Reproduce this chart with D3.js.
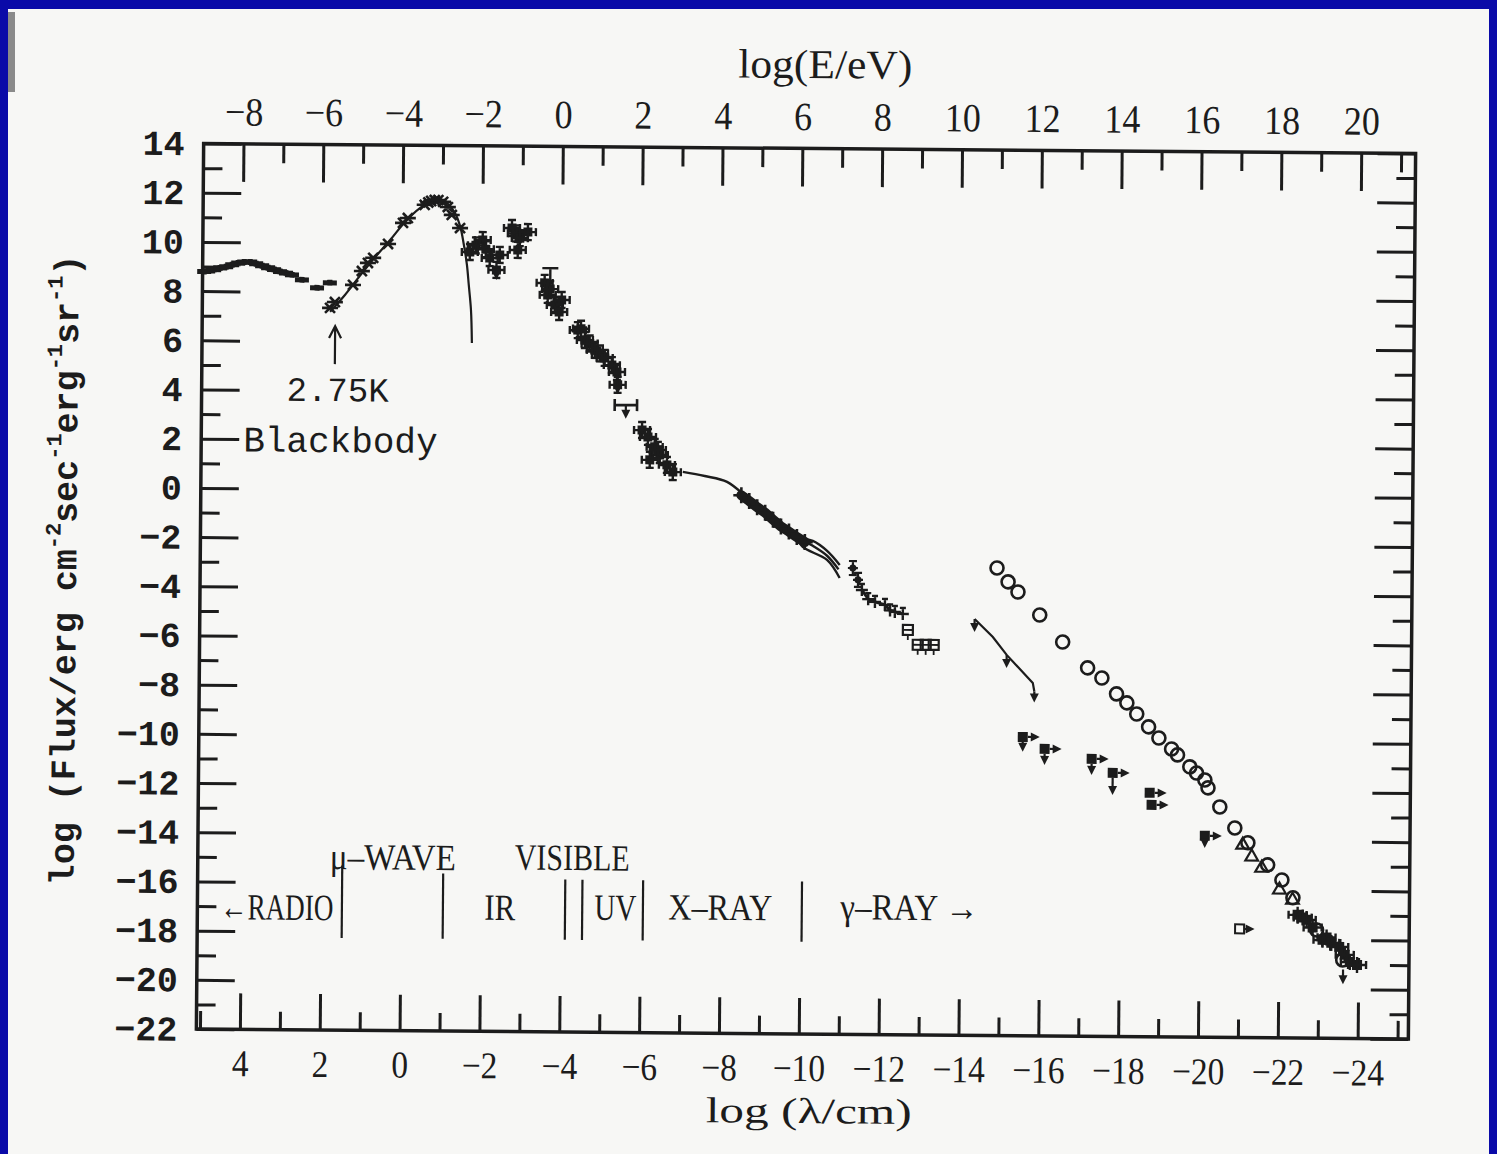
<!DOCTYPE html>
<html><head><meta charset="utf-8">
<script src="https://cdn.jsdelivr.net/npm/d3@7"></script>
<style>html,body{margin:0;padding:0;background:#0a0aa8;}svg{display:block}</style>
</head><body>
<svg id="chart" width="1497" height="1154"></svg>
<script>
// ---------------- data (log lambda/cm, log flux) ----------------
const radioLam  = [5.05,4.95,4.8,4.65,4.5,4.35,4.2,4.05,3.9,3.75,3.6,3.45,3.3,3.15,3.0,2.85,2.6,2.22,1.9];
const radioFlux = [8.80,8.82,8.88,8.95,9.00,9.08,9.15,9.20,9.20,9.13,9.05,8.97,8.90,8.82,8.76,8.69,8.49,8.17,8.38];

const cmbLam  = [1.89,1.77,1.32,1.10,0.95,0.82,0.45,0.08,-0.04,-0.46,-0.55,-0.62,-0.71,-0.80,-0.92,-1.04,-1.14,-1.35];
const cmbFlux = [7.36,7.60,8.30,8.87,9.20,9.41,9.98,10.84,11.04,11.58,11.68,11.74,11.78,11.78,11.71,11.50,11.18,10.65];

const bbLam  = [1.89,1.52,1.15,0.77,0.40,0.03,-0.34,-0.64,-0.84,-1.04,-1.22,-1.35,-1.45,-1.53,-1.58,-1.64,-1.67];
const bbFlux = [7.20,7.89,8.67,9.44,10.14,10.88,11.45,11.74,11.78,11.63,11.26,10.74,9.96,9.15,8.34,7.33,5.98];

const irLam  = [-1.60,-1.75,-1.92,-2.00,-2.10,-2.35,-2.27,-2.65,-2.75,-2.85,-3.05,-2.80,-3.48,-3.56,-3.62,-3.74,-3.91,-3.85,
                -4.32,-4.40,-4.50,-4.62,-4.75,-4.88,-5.00,-5.18,-5.31,-5.33,-5.95,-6.10,-6.27,-6.40,-6.58,-6.73,-6.15,-6.35];
const irFlux = [9.68,9.95,10.17,9.80,9.44,9.57,8.96,10.67,10.45,10.26,10.51,9.78,8.45,7.96,8.20,7.55,7.76,7.27,
                6.54,6.60,6.14,6.00,5.74,5.60,5.42,5.13,4.85,4.33,2.50,2.22,1.82,1.49,1.09,0.80,1.29,1.70];

const errBarLam = [-3.62]; const errBarLo = [8.20]; const errBarHi = [9.05];
const hBarLam = [-5.54]; const hBarFlux = [3.51]; const hBarHalf = [0.28];

const xrayLam1  = [-6.98,-7.53,-8.09,-8.67,-9.09,-9.42,-9.85,-10.25,-10.61,-10.93];
const xrayFlux1 = [0.81,0.65,0.42,-0.31,-0.83,-1.39,-1.80,-1.95,-2.35,-2.92];
const xrayLam2  = [-9.85,-10.00,-10.61,-10.93];
const xrayFlux2 = [-1.80,-2.20,-2.72,-3.45];
const xrayLam3  = [-9.85,-10.25,-10.61,-10.90];
const xrayFlux3 = [-1.80,-2.15,-2.55,-3.10];
const xBlobLam  = [-8.45,-8.65,-8.85,-9.05,-9.25,-9.45,-9.65,-9.85,-10.05];
const xBlobFlux = [-0.12,-0.35,-0.60,-0.82,-1.10,-1.38,-1.58,-1.80,-2.00];

const xpLam  = [-11.26,-11.39];
const xpFlux = [-3.04,-3.52];
const xzLam  = [-11.49,-11.65,-11.82,-12.07,-12.20,-12.32,-12.52];
const xzFlux = [-3.93,-4.30,-4.41,-4.53,-4.75,-4.81,-4.89];
const boxLam  = [-12.65,-12.90,-13.10,-13.30];
const boxFlux = [-5.54,-6.14,-6.14,-6.14];

const gulLam  = [-14.32,-14.78,-15.13,-15.79,-15.83];
const gulFlux = [-5.07,-5.80,-6.52,-7.65,-8.00];

const ulLam  = [-2.27,-5.33,-5.54,-14.32,-15.13,-15.83,-23.62];
const ulFrom = [8.96,4.33,3.51,-5.07,-6.52,-8.00,-19.20];
const ulTo   = [8.55,3.95,2.95,-5.60,-7.05,-8.45,-19.80];

const circLam  = [-14.87,-15.15,-15.40,-15.95,-16.53,-17.16,-17.52,-17.89,-18.15,-18.40,-18.70,-18.96,-19.28,-19.43,-19.74,-19.91,-20.12,-20.20,-20.50,-20.88,-21.21,-21.71,-22.07,-22.35,-22.95,-23.61];
const circFlux = [-2.99,-3.55,-3.96,-4.89,-5.98,-7.02,-7.43,-8.07,-8.43,-8.88,-9.40,-9.85,-10.29,-10.53,-11.01,-11.26,-11.54,-11.86,-12.63,-13.48,-14.08,-14.97,-15.58,-16.30,-17.60,-18.81];

const triLam  = [-21.08,-21.31,-21.56,-22.01,-22.34];
const triFlux = [-14.17,-14.65,-15.10,-15.98,-16.39];

const sqLam  = [-15.55,-16.10,-17.28,-17.81,-18.74,-18.79,-20.13];
const sqFlux = [-9.85,-10.33,-10.72,-11.28,-12.08,-12.57,-13.81];
const sqDropTo = [-10.45,-10.98,-11.37,-12.18,NaN,NaN,-14.30];
const hsqLam  = [-21.02];
const hsqFlux = [-17.58];

const endLam  = [-22.47,-22.60,-22.70,-22.85,-23.10,-23.20,-23.32,-23.52,-23.66,-23.79,-23.97];
const endFlux = [-16.99,-17.10,-17.19,-17.50,-18.00,-17.90,-18.12,-18.28,-18.60,-18.89,-19.01];

const bandLam = [1.47,-1.06,-4.12,-4.55,-6.07,-10.05];
const bandTop = [-15.3,-15.6,-15.8,-15.8,-15.8,-15.8];
const bandBottom = -18.25;

const yMajorTicks = d3.range(-22, 15, 2);
const yMinorTicks = d3.range(-21, 14, 2);
const lamMajorTicks = d3.range(4, -25, -2);
const lamMinorTicks = d3.range(5, -26, -2);
const eMajorTicks = d3.range(-8, 21, 2);
const eMinorTicks = d3.range(-7, 22, 2);

// ---------------- drawing ----------------
const W = 1497, H = 1154;
const ink = "#1c1c1c";
const svg = d3.select("#chart");
svg.append("rect").attr("width", W).attr("height", H).attr("fill", "#0a0aa8");
svg.append("rect").attr("x", 8).attr("y", 9).attr("width", 1481).attr("height", H - 9).attr("fill", "#f7f7f5");
svg.append("rect").attr("x", 8).attr("y", 12).attr("width", 7).attr("height", 80).attr("fill", "#8a8a8a");

const g = svg.append("g").attr("transform", "rotate(0.47,806,591)");
const L = 200, R = 1412, T = 148.5, B = 1034;
const x = d3.scaleLinear().domain([5.09, -25.27]).range([L, R]);
const y = d3.scaleLinear().domain([-22, 14]).range([B, T]);
const eOff = -3.907; // log(hc / eV cm)
const xE = d3.scaleLinear().domain([eOff - 5.09, eOff + 25.27]).range([L, R]);
const inE = v => v >= xE.domain()[0] && v <= xE.domain()[1];

const fmt = d3.format("d");
const serif = "'Liberation Serif','DejaVu Serif',serif";
const mono = "'Liberation Mono','DejaVu Sans Mono',monospace";

function tidy(sel) {
  sel.select(".domain").remove();
  sel.selectAll(".tick line").attr("stroke", ink).attr("stroke-width", 3);
  sel.attr("font-size", null).attr("font-family", null);
  sel.selectAll(".tick text").attr("fill", ink);
}
// left
g.append("g").attr("transform", `translate(${L},0)`)
  .call(d3.axisLeft(y).tickValues(yMajorTicks).tickSize(-38).tickPadding(19).tickFormat(fmt))
  .call(tidy).selectAll("text").attr("font-family", mono).attr("font-weight", "bold").attr("font-size", 35);
g.append("g").attr("transform", `translate(${L},0)`)
  .call(d3.axisLeft(y).tickValues(yMinorTicks).tickSize(-19).tickFormat(""))
  .call(tidy);
// right
g.append("g").attr("transform", `translate(${R},0)`)
  .call(d3.axisRight(y).tickValues(yMajorTicks).tickSize(-38).tickFormat("")).call(tidy);
g.append("g").attr("transform", `translate(${R},0)`)
  .call(d3.axisRight(y).tickValues(yMinorTicks).tickSize(-19).tickFormat("")).call(tidy);
// bottom
g.append("g").attr("transform", `translate(0,${B})`)
  .call(d3.axisBottom(x).tickValues(lamMajorTicks).tickSize(-36).tickPadding(20).tickFormat(fmt))
  .call(tidy).selectAll("text").attr("font-family", serif).attr("font-size", 38).attr("transform", "scale(0.88,1)");
g.append("g").attr("transform", `translate(0,${B})`)
  .call(d3.axisBottom(x).tickValues(lamMinorTicks.filter(v => v <= 5.09 && v >= -25.27)).tickSize(-18).tickFormat(""))
  .call(tidy);
// top
g.append("g").attr("transform", `translate(0,${T})`)
  .call(d3.axisTop(xE).tickValues(eMajorTicks).tickSize(-38).tickPadding(18.5).tickFormat(fmt))
  .call(tidy).selectAll("text").attr("font-family", serif).attr("font-size", 40).attr("transform", "scale(0.9,1)");
g.append("g").attr("transform", `translate(0,${T})`)
  .call(d3.axisTop(xE).tickValues(eMinorTicks.filter(inE)).tickSize(-19).tickFormat(""))
  .call(tidy);

// frame
g.append("rect").attr("x", L).attr("y", T).attr("width", R - L).attr("height", B - T)
  .attr("fill", "none").attr("stroke", ink).attr("stroke-width", 3.5);

// axis titles
g.append("text").attr("x", 821).attr("y", 78).attr("text-anchor", "middle")
  .attr("font-family", serif).attr("font-size", 41).attr("fill", ink)
  .attr("textLength", 174).attr("lengthAdjust", "spacingAndGlyphs").text("log(E/eV)");
g.append("text").attr("x", 813).attr("y", 1123).attr("text-anchor", "middle")
  .attr("font-family", serif).attr("font-size", 36).attr("fill", ink)
  .attr("textLength", 206).attr("lengthAdjust", "spacingAndGlyphs").text("log (λ/cm)");

const yt = g.append("text").attr("transform", "translate(76,576) rotate(-90)")
  .attr("text-anchor", "middle").attr("font-family", mono).attr("font-weight", "bold")
  .attr("font-size", 35).attr("fill", ink);
const parts = [["log (Flux/erg cm", 0], ["-2", 1], ["sec", 0], ["-1", 1], ["erg", 0], ["-1", 1], ["sr", 0], ["-1", 1], [")", 0]];
let sup = false;
parts.forEach(([t, s]) => {
  const ts = yt.append("tspan").text(t);
  if (s) { ts.attr("font-size", 22).attr("dy", sup ? 0 : -16); sup = true; }
  else { ts.attr("dy", sup ? 16 : 0); sup = false; }
});

// annotation
g.append("text").attr("x", 336).attr("y", 405).attr("text-anchor", "middle")
  .attr("font-family", mono).attr("font-size", 34).attr("fill", ink).text("2.75K");
g.append("text").attr("x", 242).attr("y", 456)
  .attr("font-family", mono).attr("font-size", 36).attr("fill", ink).text("Blackbody");
g.append("path").attr("d", "M333,368 L333,330 M327,342 L333,330 L339,342")
  .attr("fill", "none").attr("stroke", ink).attr("stroke-width", 2.2);

// band separators + labels
g.selectAll(".band").data(bandLam).join("line")
  .attr("x1", d => x(d)).attr("x2", d => x(d))
  .attr("y1", (d, i) => y(bandTop[i])).attr("y2", y(bandBottom))
  .attr("stroke", ink).attr("stroke-width", 2.2);
const bandLabels = [
  ["←RADIO", 223, 924, 113], ["μ–WAVE", 332, 873, 126], ["VISIBLE", 517, 872, 115],
  ["IR", 487, 922.5, 31], ["UV", 597, 921.5, 42], ["X–RAY", 671, 920.5, 104], ["γ–RAY →", 843, 919, 138]
];
bandLabels.forEach(([t, px, py, w]) => {
  g.append("text").attr("x", px).attr("y", py).attr("font-family", serif).attr("font-size", 37)
    .attr("fill", ink).attr("textLength", w).attr("lengthAdjust", "spacingAndGlyphs").text(t);
});

// helpers
const zip = (a, b) => a.map((v, i) => [v, b[i]]);
const line = d3.line().x(d => x(d[0])).y(d => y(d[1]));
const data = g.append("g").attr("stroke", ink).attr("fill", ink).attr("stroke-linecap", "butt");
function downArrow(px, py) { data.append("path").attr("d", `M${px - 4.5},${py - 9}L${px + 4.5},${py - 9}L${px},${py}Z`).attr("stroke", "none"); }
function rightArrow(px, py) { data.append("path").attr("d", `M${px - 9},${py - 4.5}L${px - 9},${py + 4.5}L${px},${py}Z`).attr("stroke", "none"); }

// radio band
zip(radioLam, radioFlux).forEach(([l, f]) => {
  const px = x(l), py = y(f);
  data.append("path").attr("d", `M${px - 7},${py}H${px + 7}M${px},${py - 3}V${py + 3}`).attr("stroke-width", 5).attr("fill", "none");
});
// blackbody curve
data.append("path").datum(zip(bbLam, bbFlux)).attr("d", line.curve(d3.curveCatmullRom)).attr("fill", "none").attr("stroke-width", 2.2);
line.curve(d3.curveLinear);
// CMB crosses
zip(cmbLam, cmbFlux).forEach(([l, f]) => {
  const px = x(l), py = y(f);
  data.append("path").attr("d", `M${px - 5},${py - 5}L${px + 5},${py + 5}M${px - 5},${py + 5}L${px + 5},${py - 5}M${px - 8},${py}H${px + 8}`)
    .attr("stroke-width", 2.6).attr("fill", "none");
});
// IR / optical points
zip(irLam, irFlux).forEach(([l, f]) => {
  const px = x(l), py = y(f);
  data.append("rect").attr("x", px - 4.5).attr("y", py - 4.5).attr("width", 9).attr("height", 9).attr("stroke", "none");
  data.append("path").attr("d",
    `M${px - 8},${py}H${px + 8}M${px - 8},${py - 4}V${py + 4}M${px + 8},${py - 4}V${py + 4}` +
    `M${px},${py - 8}V${py + 8}M${px - 4},${py - 8}H${px + 4}M${px - 4},${py + 8}H${px + 4}`)
    .attr("stroke-width", 2.4).attr("fill", "none");
});
errBarLam.forEach((l, i) => {
  const px = x(l);
  data.append("path").attr("d", `M${px},${y(errBarLo[i])}V${y(errBarHi[i])}M${px - 8},${y(errBarHi[i])}H${px + 8}`)
    .attr("stroke-width", 2.4).attr("fill", "none");
});
hBarLam.forEach((l, i) => {
  const py = y(hBarFlux[i]), x1 = x(l - hBarHalf[i]), x2 = x(l + hBarHalf[i]);
  data.append("path").attr("d", `M${x1},${py}H${x2}M${x1},${py - 6}V${py + 6}M${x2},${py - 6}V${py + 6}`)
    .attr("stroke-width", 2.6).attr("fill", "none");
});
// X-ray continuum
[[xrayLam1, xrayFlux1], [xrayLam2, xrayFlux2], [xrayLam3, xrayFlux3]].forEach(([a, b]) => {
  data.append("path").datum(zip(a, b)).attr("d", line.curve(d3.curveCatmullRom)).attr("fill", "none").attr("stroke-width", 2.4);
});
line.curve(d3.curveLinear);
data.append("path").datum(zip(xBlobLam, xBlobFlux)).attr("d", line).attr("fill", "none").attr("stroke-width", 10).attr("stroke-linecap", "round");
zip(xBlobLam, xBlobFlux).forEach(([l, f]) => {
  const px = x(l), py = y(f);
  data.append("path").attr("d", `M${px - 8},${py}H${px + 8}M${px},${py - 8}V${py + 8}`).attr("stroke-width", 2.6).attr("fill", "none");
});
// X-ray points
zip(xpLam, xpFlux).forEach(([l, f]) => {
  const px = x(l), py = y(f);
  data.append("circle").attr("cx", px).attr("cy", py).attr("r", 3.5).attr("stroke", "none");
  data.append("path").attr("d", `M${px},${py - 7}V${py + 7}M${px - 4},${py - 7}H${px + 4}M${px - 4},${py + 7}H${px + 4}M${px - 5},${py}H${px + 5}`)
    .attr("stroke-width", 2.2).attr("fill", "none");
});
data.append("path").datum(zip(xzLam, xzFlux)).attr("d", line).attr("fill", "none").attr("stroke-width", 3);
zip(xzLam, xzFlux).forEach(([l, f]) => {
  const px = x(l), py = y(f);
  data.append("path").attr("d", `M${px - 6},${py}H${px + 6}M${px},${py - 6}V${py + 6}M${px - 3},${py - 6}H${px + 3}`).attr("stroke-width", 2.4).attr("fill", "none");
});
zip(boxLam, boxFlux).forEach(([l, f]) => {
  const px = x(l), py = y(f);
  data.append("rect").attr("x", px - 5).attr("y", py - 5).attr("width", 10).attr("height", 10).attr("fill", "none").attr("stroke-width", 2.2);
  data.append("path").attr("d", `M${px - 5},${py}H${px + 5}M${px},${py + 5}V${py + 10}`).attr("stroke-width", 1.8).attr("fill", "none");
});
// gamma upper-limit line
data.append("path").datum(zip(gulLam, gulFlux)).attr("d", line).attr("fill", "none").attr("stroke-width", 2.2);
// upper-limit arrows
ulLam.forEach((l, i) => {
  const px = x(l), y1 = y(ulFrom[i]), y2 = y(ulTo[i]);
  data.append("line").attr("x1", px).attr("x2", px).attr("y1", y1).attr("y2", y2 - 6).attr("stroke-width", 2.2);
  downArrow(px, y2);
});
// open circles
zip(circLam, circFlux).forEach(([l, f]) => {
  data.append("circle").attr("cx", x(l)).attr("cy", y(f)).attr("r", 6.5).attr("fill", "none").attr("stroke-width", 2.6);
});
// open triangles
const tri = d3.symbol(d3.symbolTriangle, 70);
zip(triLam, triFlux).forEach(([l, f]) => {
  data.append("path").attr("d", tri()).attr("transform", `translate(${x(l)},${y(f)})`).attr("fill", "none").attr("stroke-width", 2.2);
});
// filled squares with limits
zip(sqLam, sqFlux).forEach(([l, f], i) => {
  const px = x(l), py = y(f);
  data.append("rect").attr("x", px - 5).attr("y", py - 5).attr("width", 10).attr("height", 10).attr("stroke", "none");
  data.append("line").attr("x1", px + 5).attr("x2", px + 10).attr("y1", py).attr("y2", py).attr("stroke-width", 2.2);
  rightArrow(px + 17, py);
  if (!isNaN(sqDropTo[i])) {
    const y2 = y(sqDropTo[i]);
    data.append("line").attr("x1", px).attr("x2", px).attr("y1", py + 5).attr("y2", y2 - 6).attr("stroke-width", 2.2);
    downArrow(px, y2);
  }
});
zip(hsqLam, hsqFlux).forEach(([l, f]) => {
  const px = x(l), py = y(f);
  data.append("rect").attr("x", px - 4.5).attr("y", py - 4.5).attr("width", 9).attr("height", 9).attr("fill", "none").attr("stroke-width", 2);
  data.append("line").attr("x1", px + 5).attr("x2", px + 9).attr("y1", py).attr("y2", py).attr("stroke-width", 2);
  rightArrow(px + 15, py);
});
// highest-energy cluster
zip(endLam, endFlux).forEach(([l, f]) => {
  const px = x(l), py = y(f);
  data.append("rect").attr("x", px - 5).attr("y", py - 5).attr("width", 10).attr("height", 10).attr("stroke", "none");
  data.append("path").attr("d", `M${px - 9},${py}H${px + 9}M${px},${py - 8}V${py + 8}M${px - 9},${py - 4}V${py + 4}M${px + 9},${py - 4}V${py + 4}`)
    .attr("stroke-width", 2.4).attr("fill", "none");
});
</script>
</body></html>
